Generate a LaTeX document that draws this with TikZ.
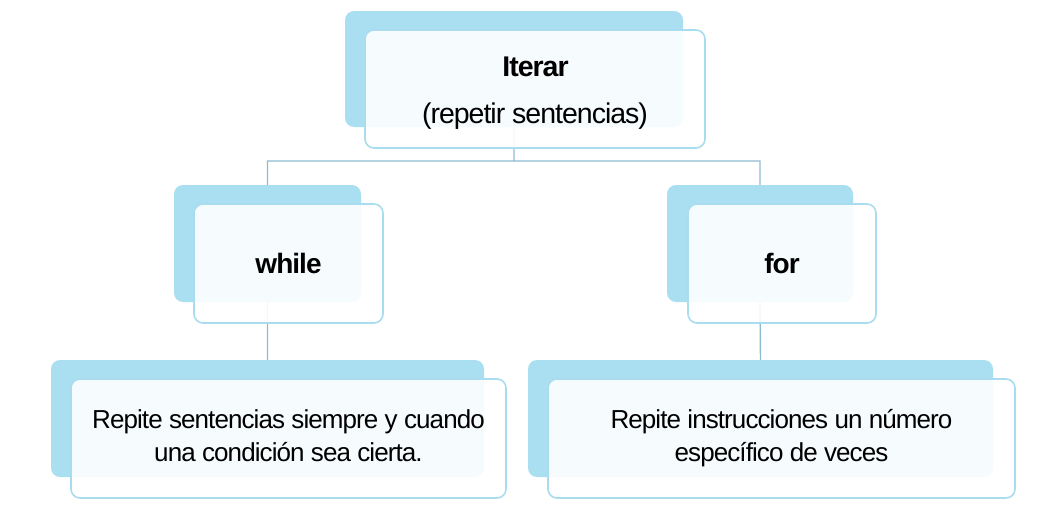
\documentclass[tikz,border=0pt]{standalone}
\usepackage{fontspec}
\setmainfont{Liberation Sans}[LetterSpace=-3.5]
\usepackage{tikz}
\usetikzlibrary{positioning}

\definecolor{backblue}{HTML}{A9DFF1}
\definecolor{edgeblue}{HTML}{A9DCEE}
\definecolor{linkcol}{HTML}{8DBBCF}

\begin{document}
\begin{tikzpicture}[x=1pt,y=-1pt,
    backbox/.style={fill=backblue, rounded corners=9pt, inner sep=0pt},
    frontbox/.style={draw=edgeblue, line width=1.6pt, fill=white, fill opacity=0.9,
        text opacity=1, rounded corners=9pt, align=center, inner sep=0pt},
    link/.style={draw=linkcol, line width=1.4pt},
    toptext/.style={font=\fontsize{28.5}{34}\selectfont},
    midtext/.style={font=\fontsize{28}{34}\selectfont\bfseries},
    lowtext/.style={font=\fontsize{26}{33}\selectfont}]
    \useasboundingbox (0,0) rectangle (1047,517);
    % back boxes
    \node[backbox, minimum width=338pt, minimum height=116pt] (iter_b) at (514,69) {};
    \node[backbox, minimum width=187pt, minimum height=117pt] (while_b) at (267.5,243.5) {};
    \node[backbox, minimum width=186pt, minimum height=117pt] (for_b) at (760,243.5) {};
    \node[backbox, minimum width=433pt, minimum height=117pt] (cond_b) at (267.5,418.5) {};
    \node[backbox, minimum width=465pt, minimum height=117pt] (count_b) at (760.5,418.5) {};
    % connectors
    \coordinate (split) at (514,161);
    \path[link] (iter_b.south) -- (split)
        (while_b.north) |- (split) -| (for_b.north)
        (while_b.south) -- (cond_b.north)
        (for_b.south) -- (count_b.north);
    % front boxes (rules only nudge the text inside its box)
    \node[frontbox, toptext, minimum width=340pt, minimum height=118pt] (iter) at (535,89)
        {\rule{0pt}{27pt}\textbf{Iterar}\\[13pt](repetir sentencias)};
    \node[frontbox, midtext, minimum width=189pt, minimum height=119pt] (while) at (288.5,263.5) {while};
    \node[frontbox, midtext, minimum width=188pt, minimum height=119pt] (for) at (782,263.5) {for};
    \node[frontbox, lowtext, minimum width=435pt, minimum height=119pt] (cond) at (288.5,438.5)
        {Repite sentencias siempre y cuando\\una condición sea cierta.\rule[-6pt]{0pt}{6pt}};
    \node[frontbox, lowtext, minimum width=467pt, minimum height=119pt] (count) at (781.5,438.5)
        {Repite instrucciones un número\\específico de veces\rule[-6pt]{0pt}{6pt}};
\end{tikzpicture}
\end{document}
